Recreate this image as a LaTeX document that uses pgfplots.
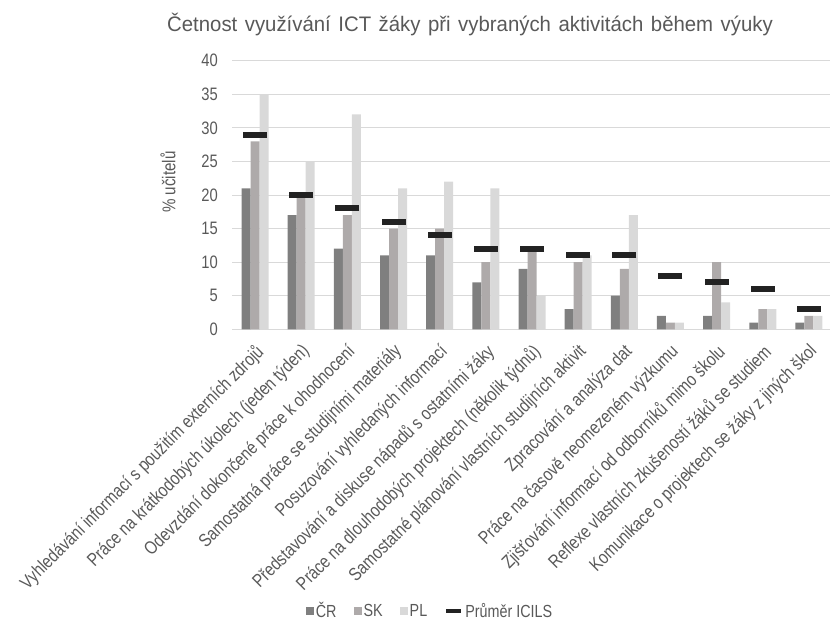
\documentclass[border=0pt]{standalone}
\usepackage{fontspec}
\setmainfont[FakeStretch=0.82]{Liberation Sans}
\newfontfamily\titlefont[FakeStretch=0.97]{Liberation Sans}
\usepackage{pgfplots}
\pgfplotsset{compat=1.18}
\definecolor{cr}{HTML}{7F7F7F}
\definecolor{sk}{HTML}{AEAAAA}
\definecolor{pl}{HTML}{D9D9D9}
\definecolor{avg}{HTML}{222222}
\definecolor{txt}{HTML}{595959}
\definecolor{gridc}{HTML}{D9D9D9}
\begin{document}
\begin{tikzpicture}
\path[use as bounding box] (0pt,0pt) rectangle (830pt,632pt);
\node[anchor=base, font=\titlefont\fontsize{21}{26}\selectfont, text=txt, inner sep=0pt] at (470pt,600pt) {\spaceskip=7.5pt Četnost využívání ICT žáky při vybraných aktivitách během výuky};
\node[rotate=90, font=\fontsize{18.5}{22}\selectfont, text=txt, inner sep=0pt] at (168pt,450pt) {\% učitelů};
\begin{axis}[
  at={(232pt,302.7pt)}, anchor=south west,
  scale only axis, width=600pt, height=268.6pt,
  ymin=0, ymax=40, ytick={0,5,...,40},
  xmin=-0.5, xmax=12.5, xtick={0,...,12},
  xticklabels={
    {Vyhledávání informací s použitím externích zdrojů},
    {Práce na krátkodobých úkolech (jeden týden)},
    {Odevzdání dokončené práce k ohodnocení},
    {Samostatná práce se studijními materiály},
    {Posuzování vyhledaných informací},
    {Představování a diskuse nápadů s ostatními žáky},
    {Práce na dlouhodobých projektech (několik týdnů)},
    {Samostatné plánování vlastních studijních aktivit},
    {Zpracování a analýza dat},
    {Práce na časově neomezeném výzkumu},
    {Zjišťování informací od odborníků mimo školu},
    {Reflexe vlastních zkušeností žáků se studiem},
    {Komunikace o projektech se žáky z jiných škol}},
  ymajorgrids, grid style={draw=gridc, line width=1pt},
  axis line style={draw=none}, tick style={draw=none},
  yticklabel style={font=\fontsize{18}{20}\selectfont, text=txt, inner sep=0pt, xshift=-14pt, /pgf/number format/assume math mode=true},
  xticklabel style={xshift=-1pt, yshift=-13pt, rotate=45, anchor=north east, font=\fontsize{18.5}{20}\selectfont, text=txt, inner sep=0pt},
  legend style={at={(0.33,-1.049)}, anchor=center, draw=none, fill=none,
    legend columns=4, font=\fontsize{17.5}{20}\selectfont, text=txt,
    /tikz/every even column/.append style={column sep=15pt},
    legend cell align=left, inner sep=0pt},
]
\addplot[ybar, bar width=9pt, bar shift=-9pt, fill=cr, draw=none,
  legend image code/.code={\fill[cr] (0pt,-4pt) rectangle (8pt,4pt);}]
  coordinates {(0,21) (1,17) (2,12) (3,11) (4,11) (5,7) (6,9) (7,3) (8,5) (9,2) (10,2) (11,1) (12,1)};
\addlegendentry{ČR}
\addplot[ybar, bar width=9pt, bar shift=0pt, fill=sk, draw=none,
  legend image code/.code={\fill[sk] (0pt,-4pt) rectangle (8pt,4pt);}]
  coordinates {(0,28) (1,20) (2,17) (3,15) (4,15) (5,10) (6,12) (7,10) (8,9) (9,1) (10,10) (11,3) (12,2)};
\addlegendentry{SK}
\addplot[ybar, bar width=9pt, bar shift=9pt, fill=pl, draw=none,
  legend image code/.code={\fill[pl] (0pt,-4pt) rectangle (8pt,4pt);}]
  coordinates {(0,35) (1,25) (2,32) (3,21) (4,22) (5,21) (6,5) (7,11) (8,17) (9,1) (10,4) (11,3) (12,2)};
\addlegendentry{PL}
\addplot[only marks, mark=-, mark size=12pt, color=avg, mark options={line width=6pt},
  legend image code/.code={\draw[avg, line width=4pt] (0pt,0pt) -- (15pt,0pt);}]
  coordinates {(0,29) (1,20) (2,18) (3,16) (4,14) (5,12) (6,12) (7,11) (8,11) (9,8) (10,7) (11,6) (12,3)};
\addlegendentry{Průměr ICILS}
\end{axis}
\end{tikzpicture}
\end{document}
